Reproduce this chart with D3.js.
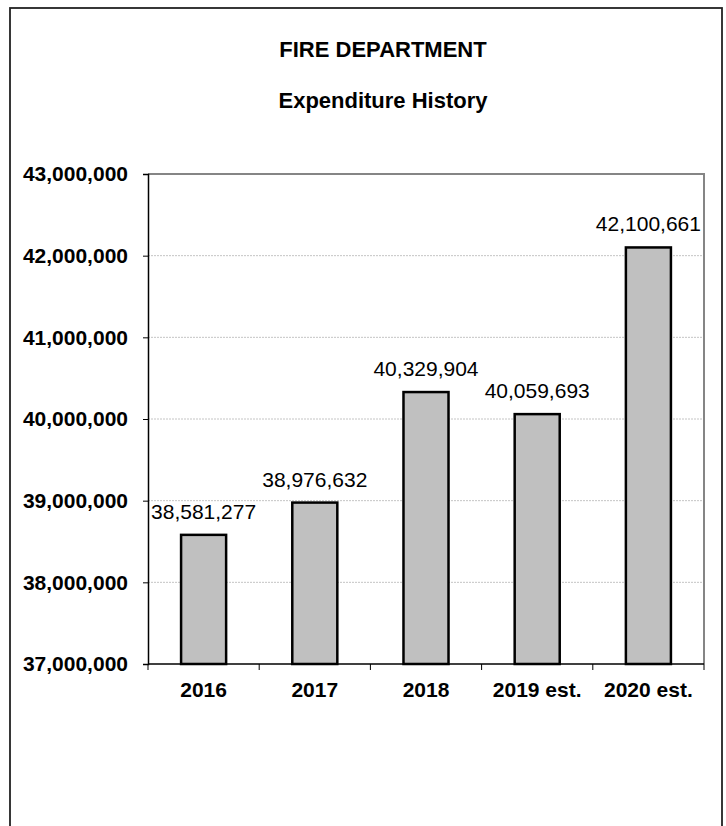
<!DOCTYPE html>
<html>
<head>
<meta charset="utf-8">
<script src="https://cdn.jsdelivr.net/npm/d3@7"></script>
<style>
  html, body { margin: 0; padding: 0; background: #fff; }
  svg { display: block; }
  text { font-family: "Liberation Sans", Arial, sans-serif; fill: #000; }
</style>
</head>
<body>
<svg id="chart" width="726" height="826"></svg>
<script>
// Fire department expenditure by year
const years = ["2016", "2017", "2018", "2019 est.", "2020 est."];
const expenditures = [38581277, 38976632, 40329904, 40059693, 42100661];
const yTicks = [37000000, 38000000, 39000000, 40000000, 41000000, 42000000, 43000000];
const titleLines = ["FIRE DEPARTMENT", "Expenditure History"];

const svg = d3.select("#chart");
const plot = { left: 148, right: 704, top: 174, bottom: 664 };

// outer frame
svg.append("rect")
  .attr("x", 10).attr("y", 8)
  .attr("width", 712).attr("height", 830)
  .attr("fill", "#fff")
  .attr("stroke", "#222").attr("stroke-width", 1.8);

// titles
svg.selectAll("text.title")
  .data(titleLines)
  .join("text")
  .attr("class", "title")
  .attr("x", 383)
  .attr("y", (d, i) => 57 + i * 51)
  .attr("text-anchor", "middle")
  .attr("font-weight", "bold")
  .attr("font-size", 22)
  .text(d => d);

const x = d3.scaleBand()
  .domain(years)
  .range([plot.left, plot.right])
  .paddingInner(0.595)
  .paddingOuter(0.2975);

const y = d3.scaleLinear()
  .domain([37000000, 43000000])
  .range([plot.bottom, plot.top]);

// dotted gridlines
svg.append("g")
  .selectAll("line")
  .data(yTicks.filter(t => t > 37000000 && t < 43000000))
  .join("line")
  .attr("x1", plot.left).attr("x2", plot.right)
  .attr("y1", d => y(d)).attr("y2", d => y(d))
  .attr("stroke", "#c4c4c4")
  .attr("stroke-width", 1)
  .attr("stroke-dasharray", "2,1");

// plot area top & right border (gray)
svg.append("path")
  .attr("d", `M${plot.left},${plot.top}H${plot.right}V${plot.bottom}`)
  .attr("fill", "none")
  .attr("stroke", "#858585")
  .attr("stroke-width", 2);

// bars
svg.append("g")
  .selectAll("rect")
  .data(expenditures)
  .join("rect")
  .attr("x", (d, i) => x(years[i]))
  .attr("width", x.bandwidth())
  .attr("y", d => y(d))
  .attr("height", d => y(37000000) - y(d))
  .attr("fill", "#c0c0c0")
  .attr("stroke", "#000")
  .attr("stroke-width", 2.5);

// value labels
const fmt = d3.format(",");
svg.append("g")
  .selectAll("text")
  .data(expenditures)
  .join("text")
  .attr("x", (d, i) => x(years[i]) + x.bandwidth() / 2)
  .attr("y", d => y(d) - 16)
  .attr("text-anchor", "middle")
  .attr("font-size", 21)
  .text(d => fmt(d));

// y axis
const yAxis = svg.append("g")
  .attr("transform", `translate(${plot.left},0)`)
  .call(d3.axisLeft(y).tickValues(yTicks).tickFormat(fmt).tickSize(5).tickPadding(15));
yAxis.select(".domain").attr("stroke", "#000").attr("stroke-width", 1.5);
yAxis.selectAll(".tick line").attr("stroke", "#000");
yAxis.selectAll(".tick text")
  .attr("font-size", 21)
  .attr("font-weight", "bold")
  .attr("font-family", "Liberation Sans, Arial, sans-serif")
  .attr("fill", "#000");

// x axis with category boundary ticks
const xAxis = svg.append("g")
  .attr("transform", `translate(0,${plot.bottom})`);
xAxis.append("line")
  .attr("x1", plot.left).attr("x2", plot.right)
  .attr("stroke", "#000").attr("stroke-width", 1.5);
const step = x.step();
xAxis.selectAll("line.bound")
  .data(d3.range(years.length + 1))
  .join("line")
  .attr("class", "bound")
  .attr("x1", i => plot.left + i * step).attr("x2", i => plot.left + i * step)
  .attr("y1", 0).attr("y2", 6)
  .attr("stroke", "#000");
xAxis.selectAll("text")
  .data(years)
  .join("text")
  .attr("x", d => x(d) + x.bandwidth() / 2)
  .attr("y", 33)
  .attr("text-anchor", "middle")
  .attr("font-size", 21)
  .attr("font-weight", "bold")
  .text(d => d);
</script>
</body>
</html>
